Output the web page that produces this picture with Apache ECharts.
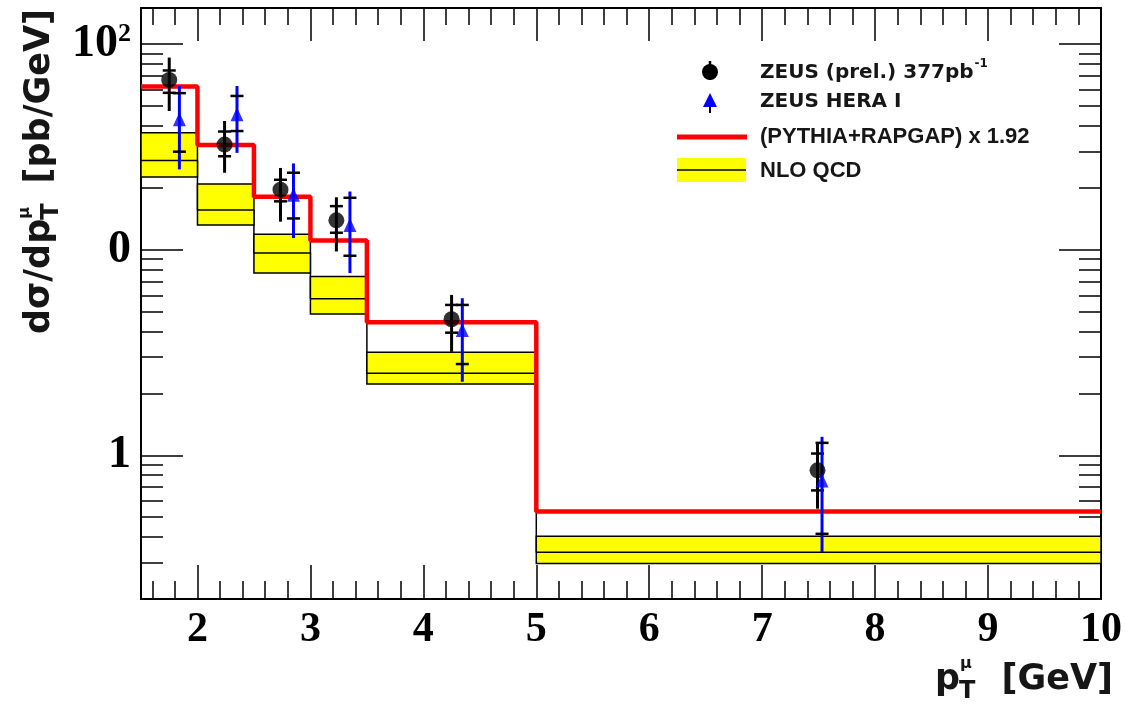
<!DOCTYPE html>
<html>
<head>
<meta charset="utf-8">
<title>ZEUS muon pT</title>
<script src="https://cdn.jsdelivr.net/npm/echarts@6/dist/echarts.min.js"></script>
<style>
  html, body { margin: 0; padding: 0; background: #fff; }
  #myChart { width: 1125px; height: 707px; }
</style>
</head>
<body>
<div id="myChart"></div>
<script>
// bin edges (GeV)
var binEdges = [1.5, 2, 2.5, 3, 3.5, 5, 10];
// (PYTHIA+RAPGAP) x 1.92
var mcValues = [62.2, 32.3, 18.1, 11.1, 4.44, 0.533];
// NLO QCD band
var nloCentral = [27.2, 15.6, 9.63, 5.77, 2.51, 0.338];
var nloLow = [22.6, 13.2, 7.70, 4.87, 2.22, 0.298];
var nloHigh = [37.1, 20.9, 11.9, 7.41, 3.17, 0.404];

// ZEUS (prel.) 377pb-1
var zeusX = [1.75, 2.24, 2.735, 3.23, 4.25, 7.49];
var zeusY = [67.0, 32.5, 19.6, 13.9, 4.59, 0.845];
var zeusStatLo = [58.0, 28.5, 17.2, 12.1, 3.95, 0.675];
var zeusStatHi = [74.5, 37.6, 21.9, 16.3, 5.39, 1.02];
var zeusTotLo = [47.3, 23.7, 13.7, 9.81, 3.19, 0.55];
var zeusTotHi = [86.1, 42.3, 25.0, 18.0, 6.03, 1.14];

// ZEUS HERA I
var heraX = [1.84, 2.35, 2.85, 3.35, 4.345, 7.53];
var heraY = [43.1, 45.6, 18.5, 13.2, 4.07, 0.755];
var heraStatLo = [30.0, 37.8, 14.2, 9.35, 2.78, 0.415];
var heraStatHi = [57.8, 56.0, 23.7, 17.9, 5.39, 1.15];
var heraTotLo = [24.6, 29.6, 11.4, 7.7, 2.28, 0.338];
var heraTotHi = [62.6, 62.6, 26.3, 19.2, 5.81, 1.23];

// axis ticks
var xMajorTicks = [2, 3, 4, 5, 6, 7, 8, 9, 10];
var xMinorTicks = [1.6, 1.8, 2.2, 2.4, 2.6, 2.8, 3.2, 3.4, 3.6, 3.8, 4.2, 4.4, 4.6, 4.8,
  5.2, 5.4, 5.6, 5.8, 6.2, 6.4, 6.6, 6.8, 7.2, 7.4, 7.6, 7.8, 8.2, 8.4, 8.6, 8.8,
  9.2, 9.4, 9.6, 9.8];
var yMajorTicks = [1, 10, 100];
// label = base with optional exponent (the "10" label is clipped to "0" in the original)
var yTickBase = ['1', '0', '10'];
var yTickExp = ['', '', '2'];
var yMinorTicks = [0.3, 0.4, 0.5, 0.6, 0.7, 0.8, 0.9, 2, 3, 4, 5, 6, 7, 8, 9,
  20, 30, 40, 50, 60, 70, 80, 90];

var sansFont = '"Liberation Sans", Arial, sans-serif';
var heavyFont = '"DejaVu Sans", sans-serif';
var serifFont = '"Liberation Serif", "Times New Roman", serif';

var ctx = document.createElement('canvas').getContext('2d');
function measure(str, size, family) {
  ctx.font = 'bold ' + size + 'px ' + (family || sansFont);
  return ctx.measureText(str).width;
}
function txt(str, x, y, size, align, family) {
  return {
    type: 'text', x: x, y: y,
    style: {
      text: str, font: 'bold ' + size + 'px ' + (family || sansFont), fill: '#161616',
      align: align || 'left', textAlign: align || 'left',
      verticalAlign: 'middle', textVerticalAlign: 'middle'
    }
  };
}

function xAxisDef(pos, ticks, len, withLine, withLabel) {
  return {
    type: 'value', min: 1.5, max: 10, position: pos,
    axisLine: { show: withLine, lineStyle: { color: '#000', width: 2 } },
    axisTick: { show: true, inside: true, length: len, customValues: ticks,
      lineStyle: { color: '#000', width: 1.5 } },
    axisLabel: withLabel ? {
      customValues: xMajorTicks, margin: 10, color: '#000',
      fontFamily: serifFont, fontWeight: 'bold', fontSize: 42
    } : { show: false },
    splitLine: { show: false }
  };
}
function yAxisDef(pos, ticks, len, withLine, withLabel) {
  return {
    type: 'log', logBase: 10, min: 0.2, max: 150, position: pos,
    axisLine: { show: withLine, lineStyle: { color: '#000', width: 2 } },
    axisTick: { show: true, inside: true, length: len, customValues: ticks,
      lineStyle: { color: '#000', width: 1.5 } },
    axisLabel: withLabel ? {
      customValues: yMajorTicks, margin: 10, color: '#000',
      fontFamily: serifFont, fontWeight: 'bold', fontSize: 46,
      formatter: function (v) {
        var i = yMajorTicks.indexOf(Math.round(v));
        if (i < 0) return '';
        return '{b|' + yTickBase[i] + '}' + (yTickExp[i] ? '{s|' + yTickExp[i] + '}' : '');
      },
      rich: {
        b: { fontFamily: serifFont, fontWeight: 'bold', fontSize: 46, lineHeight: 46, color: '#000' },
        s: { fontFamily: serifFont, fontWeight: 'bold', fontSize: 26, lineHeight: 30,
          verticalAlign: 'top', color: '#000' }
      }
    } : { show: false },
    splitLine: { show: false }
  };
}

// step line points from bin edges
function stepPoints(values) {
  var pts = [];
  values.forEach(function (v, i) { pts.push([binEdges[i], v]); });
  pts.push([binEdges[binEdges.length - 1], values[values.length - 1]]);
  return pts;
}

var nloBoxes = nloCentral.map(function (c, i) {
  return [binEdges[i], binEdges[i + 1], nloLow[i], c, nloHigh[i]];
});
function pointRows(xs, ys, sLo, sHi, tLo, tHi) {
  return xs.map(function (x, i) { return [x, ys[i], sLo[i], sHi[i], tLo[i], tHi[i]]; });
}
var zeusRows = pointRows(zeusX, zeusY, zeusStatLo, zeusStatHi, zeusTotLo, zeusTotHi);
var heraRows = pointRows(heraX, heraY, heraStatLo, heraStatHi, heraTotLo, heraTotHi);

function renderBox(params, api) {
  var pLo = api.coord([api.value(0), api.value(2)]);
  var pHi = api.coord([api.value(1), api.value(4)]);
  var pMid = api.coord([api.value(1), api.value(3)]);
  return {
    type: 'group',
    children: [
      { type: 'rect', shape: { x: pLo[0], y: pHi[1], width: pHi[0] - pLo[0], height: pLo[1] - pHi[1] },
        style: { fill: '#ffff00', stroke: '#000', lineWidth: 1.5 } },
      { type: 'line', shape: { x1: pLo[0], y1: pMid[1], x2: pHi[0], y2: pMid[1] },
        style: { stroke: '#000', lineWidth: 1.5 } }
    ]
  };
}
function errorBar(color) {
  return function (params, api) {
    var x = api.value(0);
    var top = api.coord([x, api.value(5)]);
    var bot = api.coord([x, api.value(4)]);
    var sHi = api.coord([x, api.value(3)]);
    var sLo = api.coord([x, api.value(2)]);
    var hw = 6.5;
    return {
      type: 'group',
      children: [
        { type: 'line', shape: { x1: top[0], y1: top[1], x2: bot[0], y2: bot[1] },
          style: { stroke: color, lineWidth: 3 } },
        { type: 'line', shape: { x1: sHi[0] - hw, y1: sHi[1], x2: sHi[0] + hw, y2: sHi[1] },
          style: { stroke: '#000', lineWidth: 2.5 } },
        { type: 'line', shape: { x1: sLo[0] - hw, y1: sLo[1], x2: sLo[0] + hw, y2: sLo[1] },
          style: { stroke: '#000', lineWidth: 2.5 } }
      ]
    };
  };
}

// axis titles with stacked super/subscripts
var wP = measure('p', 35, heavyFont);
var xTitle = [
  txt('p', 935, 680, 35, 'left', heavyFont),
  txt('\u03bc', 935 + wP, 664, 16, 'left', heavyFont),
  txt('T', 935 + wP - 1, 692, 24, 'left', heavyFont),
  txt('[GeV]', 1113, 680, 35, 'right', heavyFont)
];
var wD = measure('d\u03c3/dp', 35, heavyFont);
var yTitle = {
  type: 'group', x: 40, y: 334, rotation: Math.PI / 2,
  children: [
    txt('d\u03c3/dp', 0, 0, 35, 'left', heavyFont),
    txt('\u03bc', wD, -15, 16, 'left', heavyFont),
    txt('T', wD - 1, 12, 24, 'left', heavyFont),
    txt('[pb/GeV]', 325, 0, 35, 'right', heavyFont)
  ]
};

// legend
var wZeus = measure('ZEUS (prel.) 377pb', 20, heavyFont);
var legend = [
  { type: 'line', shape: { x1: 710, y1: 61, x2: 710, y2: 80 }, style: { stroke: '#000', lineWidth: 2.5 } },
  { type: 'circle', shape: { cx: 710, cy: 72, r: 8 }, style: { fill: '#000' } },
  txt('ZEUS (prel.) 377pb', 760, 73, 20, 'left', heavyFont),
  txt('-1', 760 + wZeus + 1, 64, 12, 'left', heavyFont),
  { type: 'line', shape: { x1: 710, y1: 104, x2: 710, y2: 113 }, style: { stroke: '#000', lineWidth: 2 } },
  { type: 'polygon', shape: { points: [[710, 93], [703, 107], [717, 107]] }, style: { fill: '#0000ff' } },
  txt('ZEUS HERA I', 760, 102, 20, 'left', heavyFont),
  { type: 'line', shape: { x1: 677, y1: 137, x2: 747, y2: 137 }, style: { stroke: '#ff0000', lineWidth: 5 } },
  txt('(PYTHIA+RAPGAP) x 1.92', 760, 137, 22),
  { type: 'rect', shape: { x: 677, y: 158, width: 69, height: 24 }, style: { fill: '#ffff00' } },
  { type: 'line', shape: { x1: 677, y1: 170, x2: 746, y2: 170 }, style: { stroke: '#000', lineWidth: 1.5 } },
  txt('NLO QCD', 760, 171, 22)
];

var myChart = echarts.init(document.getElementById('myChart'));
myChart.setOption({
  animation: false,
  backgroundColor: '#fff',
  grid: { left: 141, right: 21, top: 8, bottom: 108, containLabel: false },
  xAxis: [
    xAxisDef('bottom', xMajorTicks, 34, true, true),
    xAxisDef('bottom', xMinorTicks, 18, false, false),
    xAxisDef('top', xMajorTicks, 33, true, false),
    xAxisDef('top', xMinorTicks, 17, false, false)
  ],
  yAxis: [
    yAxisDef('left', yMajorTicks, 42, true, true),
    yAxisDef('left', yMinorTicks, 22, false, false),
    yAxisDef('right', yMajorTicks, 42, true, false),
    yAxisDef('right', yMinorTicks, 22, false, false)
  ],
  graphic: xTitle.concat([yTitle]).concat(legend),
  series: [
    {
      name: 'NLO QCD central', type: 'line', step: 'end', data: stepPoints(nloCentral),
      symbol: 'none', lineStyle: { color: '#000', width: 1.5 }, z: 1
    },
    {
      name: 'NLO QCD', type: 'custom', data: nloBoxes, renderItem: renderBox,
      encode: { x: [0, 1], y: [2, 3, 4] }, z: 2
    },
    {
      name: '(PYTHIA+RAPGAP) x 1.92', type: 'line', step: 'end', data: stepPoints(mcValues),
      symbol: 'none', lineStyle: { color: '#ff0000', width: 4.5 }, z: 3
    },
    {
      name: 'ZEUS (prel.) err', type: 'custom', data: zeusRows, renderItem: errorBar('#000'),
      encode: { x: 0, y: [1, 4, 5] }, z: 4
    },
    {
      name: 'ZEUS HERA I err', type: 'custom', data: heraRows, renderItem: errorBar('#0000ff'),
      encode: { x: 0, y: [1, 4, 5] }, z: 4
    },
    {
      name: 'ZEUS (prel.) 377pb-1', type: 'scatter', symbol: 'circle', symbolSize: 16,
      data: zeusRows.map(function (r) { return [r[0], r[1]]; }),
      itemStyle: { color: '#000' }, z: 5
    },
    {
      name: 'ZEUS HERA I', type: 'scatter', symbol: 'triangle', symbolSize: [13, 14],
      data: heraRows.map(function (r) { return [r[0], r[1]]; }),
      itemStyle: { color: '#0000ff' }, z: 5
    }
  ]
});
</script>
</body>
</html>
